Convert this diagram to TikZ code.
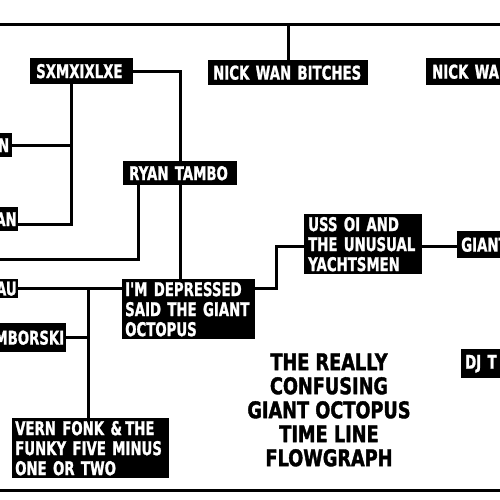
\documentclass[tikz,border=0pt]{standalone}
\usepackage{fontspec}
\newfontfamily\lab{DejaVu Sans Bold}[FakeStretch=0.70,FakeBold=1.2]
\newfontfamily\ttlfont{DejaVu Sans Bold}[FakeStretch=0.77,FakeBold=1.6]
\begin{document}
\begin{tikzpicture}[x=1pt,y=-1pt,
  conn/.style={line width=3pt,line cap=rect},
  bx/.style={fill=black,text=white,font=\lab\fontsize{19}{20}\selectfont,
    anchor=north west,inner xsep=6pt,inner ysep=0pt,align=left},
  bxr/.style={bx,align=right},
  ttl/.style={font=\ttlfont\fontsize{23}{24}\selectfont,align=center,text=black}]
\useasboundingbox (0,0) rectangle (500,500);
\clip (0,0) rectangle (500,500);
% frame lines
\coordinate (topl) at (-5,25);
\coordinate (topr) at (505,25);
\coordinate (botl) at (-5,490);
\coordinate (botr) at (505,490);
\draw[conn] (topl) -- (topr);
\draw[conn] (botl) -- (botr);
% boxes
\node[bx,minimum width=103pt,minimum height=26pt,text width=91pt] (sx) at (30,58) {SXMXIXLXE};
\node[bx,minimum width=160pt,minimum height=25pt,text width=150pt,inner xsep=5pt] (nwb) at (208,60) {NICK WAN BITCHES};
\node[bx,minimum width=100pt,minimum height=27pt,text width=88pt] (nwa) at (426,58) {NICK WA};
\node[bxr,minimum width=60pt,minimum height=24pt,text width=54pt,inner xsep=1pt] (n) at (-48,133) {N};
\node[bxr,minimum width=60pt,minimum height=24pt,text width=57pt,inner xsep=1pt] (an) at (-42,207) {AN};
\node[bx,minimum width=114pt,minimum height=24pt,text width=102pt] (rt) at (123,161) {RYAN TAMBO};
\node[bxr,minimum width=60pt,minimum height=19pt,text width=57pt,inner xsep=1pt] (au) at (-42,279) {AU};
\node[bxr,minimum width=120pt,minimum height=29pt,text width=116pt,inner xsep=2pt] (mb) at (-54,323) {MBORSKI};
\node[bx,minimum width=133pt,minimum height=60pt,text width=127pt,inner xsep=3pt] (dep) at (122,279) {I'M DEPRESSED\\SAID THE GIANT\\OCTOPUS};
\node[bx,minimum width=157pt,minimum height=60pt,text width=151pt,inner xsep=3pt] (vf) at (12,418) {VERN FONK \&\,THE\\FUNKY FIVE MINUS\\ONE OR TWO};
\node[bx,minimum width=118pt,minimum height=60pt,text width=110pt,inner xsep=4pt] (uss) at (304,214) {USS OI AND\\THE UNUSUAL\\YACHTSMEN};
\node[bx,minimum width=80pt,minimum height=27pt,text width=72pt,inner xsep=4pt] (gi) at (457,231) {GIANT};
\node[bx,minimum width=80pt,minimum height=29pt,text width=72pt,inner xsep=4pt] (dj) at (461,349) {DJ T};
\node[ttl] (title) at (329,410) {THE REALLY\\CONFUSING\\GIANT OCTOPUS\\TIME LINE\\FLOWGRAPH};
% connectors
\draw[conn] (nwb.north) -- (nwb.north |- topl);
\draw[conn] (sx.east) -| (rt.north);
\draw[conn] (rt.south) -- (rt.south |- dep.north);
\coordinate (j1) at (71,224);
\draw[conn] (sx.south -| j1) -- (j1) -- (an.east |- j1);
\draw[conn] (n.east) -- (n.east -| j1);
\coordinate (j2) at (138,259);
\coordinate (le) at (-5,259);
\draw[conn] (rt.south -| j2) -- (j2) -- (le);
\coordinate (j3) at (88,288);
\draw[conn] (au.east) -- (au.east -| dep.west);
\draw[conn] (j3) -- (j3 |- vf.north);
\draw[conn] (mb.east) -- (mb.east -| j3);
\coordinate (j4) at (276,246);
\draw[conn] (dep.east |- j3) -| (j4) -- (j4 -| uss.west);
\draw[conn] (uss.east |- j4) -- (gi.west |- j4);
\end{tikzpicture}
\end{document}
